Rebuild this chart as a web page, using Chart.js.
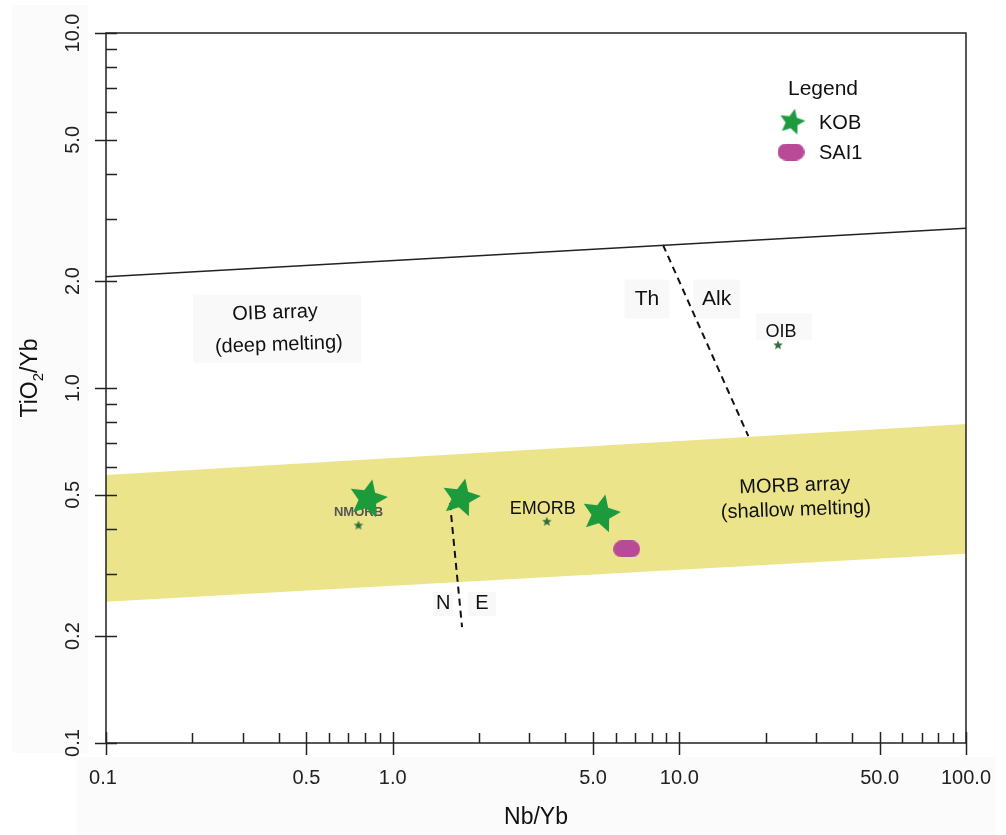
<!DOCTYPE html>
<html>
<head>
<meta charset="utf-8">
<script src="https://cdn.jsdelivr.net/npm/chart.js@4/dist/chart.umd.min.js"></script>
<style>
  body { margin: 0; background: #fff; }
  canvas { display: block; }
</style>
</head>
<body>
<canvas id="myChart" width="1006" height="835"></canvas>
<script>
// samples (Nb/Yb, TiO2/Yb)
const kobNb = [0.82, 1.73, 5.33];
const kobTi = [0.487, 0.49, 0.442];
const saiNb = [6.55];
const saiTi = [0.352];

// reference compositions
const refNames = ["NMORB", "EMORB", "OIB"];
const refNb = [0.76, 3.45, 22.1];
const refTi = [0.41, 0.42, 1.32];

// field boundaries
const oibLineNb = [0.1, 100];
const oibLineTi = [2.058, 2.818];
const thAlkNb = [8.77, 17.4];
const thAlkTi = [2.53, 0.732];
const neNb = [1.585, 1.746];
const neTi = [0.474, 0.212];
const morbNb = [0.1, 100];
const morbTopTi = [0.569, 0.792];
const morbBotTi = [0.25, 0.341];

// axis ticks
const xMajor = [0.1, 0.5, 1, 5, 10, 50, 100];
const xLabels = ["0.1", "0.5", "1.0", "5.0", "10.0", "50.0", "100.0"];
const xMinor = [0.2, 0.3, 0.4, 0.6, 0.7, 0.8, 0.9, 2, 3, 4, 6, 7, 8, 9, 20, 30, 40, 60, 70, 80, 90];
const yMajor = [0.1, 0.2, 0.5, 1, 2, 5, 10];
const yLabels = ["0.1", "0.2", "0.5", "1.0", "2.0", "5.0", "10.0"];
const yMinor = [0.3, 0.4, 0.6, 0.7, 0.8, 0.9, 3, 4, 6, 7, 8, 9];

const FONT = "'Liberation Sans', Arial, sans-serif";
const GREEN = "#1c9a3c";
const PINK = "#b94a98";

const pts = (xs, ys) => xs.map((x, i) => ({ x: x, y: ys[i] }));

function starImg(outer, inner, color, rot) {
  const s = Math.ceil(outer * 2 + 2);
  const c = document.createElement("canvas");
  c.width = c.height = s;
  const g = c.getContext("2d");
  g.translate(s / 2, s / 2);
  g.rotate(rot);
  g.beginPath();
  for (let i = 0; i < 10; i++) {
    const r = i % 2 ? inner : outer;
    const a = -Math.PI / 2 + i * Math.PI / 5;
    g.lineTo(r * Math.cos(a), r * Math.sin(a));
  }
  g.closePath();
  g.fillStyle = color;
  g.fill();
  return c;
}

function pillImg(w, h, color) {
  const c = document.createElement("canvas");
  c.width = w; c.height = h;
  const g = c.getContext("2d");
  g.beginPath();
  g.roundRect(0, 0, w, h, h / 2);
  g.fillStyle = color;
  g.fill();
  return c;
}

const bigStar = starImg(20, 9.5, GREEN, 0.22);
const legStar = starImg(13.5, 6.4, GREEN, 0.22);
const smallStar = starImg(5, 2.2, "#2f6e3c", 0);
const pill = pillImg(27, 17, PINK);

// text annotations placed in data units
const notes = [
  { t: "OIB array", x: 0.389, y: 1.627, size: 20, rot: -0.035 },
  { t: "(deep melting)", x: 0.401, y: 1.322, size: 20, rot: -0.035 },
  { t: "MORB array", x: 25.3, y: 0.53, size: 20, rot: -0.035 },
  { t: "(shallow melting)", x: 25.5, y: 0.453, size: 20, rot: -0.035 },
  { t: "Th", x: 7.71, y: 1.78, size: 21, box: [45, 39] },
  { t: "Alk", x: 13.5, y: 1.78, size: 21, box: [47, 39] },
  { t: "N", x: 1.5, y: 0.2464, size: 20, box: [20, 24] },
  { t: "E", x: 2.05, y: 0.2464, size: 20, box: [28, 24] }
];

const overlay = {
  id: "overlay",
  beforeDraw(chart) {
    const ctx = chart.ctx;
    ctx.save();
    ctx.fillStyle = "#fff";
    ctx.fillRect(0, 0, chart.width, chart.height);
    ctx.fillStyle = "#fbfbfb";
    ctx.fillRect(12, 5, 76, 748);
    ctx.fillRect(77, 757, 918, 78);
    ctx.restore();
  },
  beforeDatasetsDraw(chart) {
    const ctx = chart.ctx;
    const xs = chart.scales.x, ys = chart.scales.y;
    ctx.save();
    ctx.textAlign = "center";
    ctx.textBaseline = "middle";
    // faint panel behind OIB array text
    const ox = xs.getPixelForValue(0.395), oy = ys.getPixelForValue(1.47);
    ctx.fillStyle = "#f9f9f9";
    ctx.fillRect(ox - 84, oy - 34, 168, 68);
    const ax = xs.getPixelForValue(refNb[2]), ay = ys.getPixelForValue(refTi[2]);
    ctx.fillRect(ax - 22, ay - 32, 56, 27);
    notes.forEach(n => {
      const px = xs.getPixelForValue(n.x), py = ys.getPixelForValue(n.y);
      if (n.box) {
        ctx.fillStyle = "#f8f8f8";
        ctx.fillRect(px - n.box[0] / 2, py - n.box[1] / 2, n.box[0], n.box[1]);
      }
      ctx.save();
      ctx.translate(px, py);
      ctx.rotate(n.rot || 0);
      ctx.fillStyle = "#111";
      ctx.font = n.size + "px " + FONT;
      ctx.fillText(n.t, 0, 0);
      ctx.restore();
    });
    // reference point labels
    refNames.forEach((name, i) => {
      const px = xs.getPixelForValue(refNb[i]), py = ys.getPixelForValue(refTi[i]);
      if (name === "NMORB") {
        ctx.fillStyle = "#555";
        ctx.font = "bold 13px " + FONT;
        ctx.fillText(name, px, py - 13);
      } else {
        ctx.fillStyle = "#111";
        ctx.font = "18px " + FONT;
        ctx.fillText(name, px + (name === "OIB" ? 3 : -4), py - 13);
      }
    });
    ctx.restore();
  },
  afterDraw(chart) {
    const ctx = chart.ctx;
    const xs = chart.scales.x, ys = chart.scales.y;
    const a = chart.chartArea;
    ctx.save();
    ctx.strokeStyle = "#222";
    ctx.lineWidth = 1.5;
    ctx.beginPath();
    ctx.rect(a.left, a.top, a.right - a.left, a.bottom - a.top);
    ctx.stroke();
    ctx.beginPath();
    xMajor.forEach(v => {
      const p = Math.round(xs.getPixelForValue(v)) + 0.5;
      ctx.moveTo(p, a.bottom - 11); ctx.lineTo(p, a.bottom + 12);
    });
    xMinor.forEach(v => {
      const p = Math.round(xs.getPixelForValue(v)) + 0.5;
      ctx.moveTo(p, a.bottom - 10); ctx.lineTo(p, a.bottom);
    });
    yMajor.forEach(v => {
      const p = Math.round(ys.getPixelForValue(v)) + 0.5;
      ctx.moveTo(a.left - 11, p); ctx.lineTo(a.left + 11, p);
    });
    yMinor.forEach(v => {
      const p = Math.round(ys.getPixelForValue(v)) + 0.5;
      ctx.moveTo(a.left, p); ctx.lineTo(a.left + 11, p);
    });
    ctx.stroke();

    ctx.fillStyle = "#222";
    ctx.font = "20px " + FONT;
    ctx.textAlign = "center";
    ctx.textBaseline = "middle";
    xMajor.forEach((v, i) => {
      ctx.fillText(xLabels[i], xs.getPixelForValue(v) - (i === 0 ? 3 : 0), a.bottom + 35);
    });
    yMajor.forEach((v, i) => {
      ctx.save();
      ctx.translate(a.left - 33, ys.getPixelForValue(v));
      ctx.rotate(-Math.PI / 2);
      ctx.fillText(yLabels[i], 0, 0);
      ctx.restore();
    });

    // axis titles
    ctx.fillStyle = "#111";
    ctx.font = "23px " + FONT;
    ctx.fillText("Nb/Yb", (a.left + a.right) / 2, 818);
    ctx.save();
    ctx.translate(31, 378);
    ctx.rotate(-Math.PI / 2);
    const w1 = ctx.measureText("TiO").width;
    const w3 = ctx.measureText("/Yb").width;
    ctx.font = "15px " + FONT;
    const w2 = ctx.measureText("2").width;
    let x0 = -(w1 + w2 + w3) / 2;
    ctx.textAlign = "left";
    ctx.font = "23px " + FONT;
    ctx.fillText("TiO", x0, 0);
    ctx.font = "15px " + FONT;
    ctx.fillText("2", x0 + w1, 8);
    ctx.font = "23px " + FONT;
    ctx.fillText("/Yb", x0 + w1 + w2, 0);
    ctx.restore();

    // legend
    ctx.textAlign = "center";
    ctx.font = "21px " + FONT;
    ctx.fillText("Legend", 823, 89);
    ctx.drawImage(legStar, 792 - legStar.width / 2, 122 - legStar.height / 2);
    ctx.drawImage(pill, 791 - pill.width / 2, 152 - pill.height / 2);
    ctx.textAlign = "left";
    ctx.font = "20px " + FONT;
    ctx.fillText("KOB", 819, 123);
    ctx.fillText("SAI1", 819, 153);
    ctx.restore();
  }
};

new Chart(document.getElementById("myChart"), {
  type: "scatter",
  data: {
    datasets: [
      { label: "KOB", data: pts(kobNb, kobTi), pointStyle: bigStar, pointRadius: 20 },
      { label: "SAI1", data: pts(saiNb, saiTi), pointStyle: pill, pointRadius: 14 },
      { label: "Reference", data: pts(refNb, refTi), pointStyle: smallStar, pointRadius: 5 },
      { type: "line", label: "OIB-MORB", data: pts(oibLineNb, oibLineTi), borderColor: "#222", borderWidth: 1.4, pointRadius: 0, fill: false },
      { type: "line", label: "Th-Alk", data: pts(thAlkNb, thAlkTi), borderColor: "#111", borderWidth: 2, borderDash: [7, 5], pointRadius: 0, fill: false },
      { type: "line", label: "N-E", data: pts(neNb, neTi), borderColor: "#111", borderWidth: 2, borderDash: [7, 5], pointRadius: 0, fill: false },
      { type: "line", label: "MORB top", data: pts(morbNb, morbTopTi), borderWidth: 0, pointRadius: 0, backgroundColor: "#ece48b", fill: "+1" },
      { type: "line", label: "MORB bottom", data: pts(morbNb, morbBotTi), borderWidth: 0, pointRadius: 0, fill: false }
    ]
  },
  options: {
    responsive: false,
    animation: false,
    events: [],
    layout: { padding: { left: 0, top: 33, right: 40, bottom: 0 } },
    plugins: {
      legend: { display: false },
      tooltip: { enabled: false },
      filler: { drawTime: "beforeDatasetsDraw" }
    },
    scales: {
      x: {
        type: "logarithmic", min: 0.1, max: 100,
        ticks: { display: false }, grid: { display: false }, border: { display: false },
        afterFit: s => { s.height = 92; }
      },
      y: {
        type: "logarithmic", min: 0.1, max: 10,
        ticks: { display: false }, grid: { display: false }, border: { display: false },
        afterFit: s => { s.width = 106; }
      }
    }
  },
  plugins: [overlay]
});
</script>
</body>
</html>
